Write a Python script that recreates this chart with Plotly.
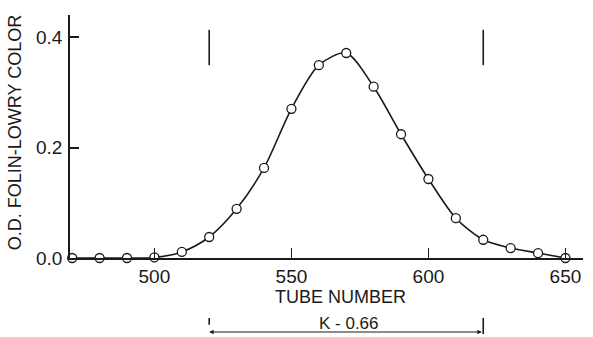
import plotly.graph_objects as go

# Data
tubes = [470, 480, 490, 500, 510, 520, 530, 540, 550, 560, 570, 580, 590, 600,
         610, 620, 630, 640, 650]
od_values = [0.0, 0.0, 0.0, 0.001, 0.011, 0.038, 0.089, 0.163, 0.270, 0.349,
             0.371, 0.310, 0.224, 0.143, 0.072, 0.033, 0.018, 0.009, 0.0]
cut_tubes = [520, 620]
cut_mark_y = [0.349, 0.413]
x_ticks = [500, 550, 600, 650]
y_ticks = [0.0, 0.2, 0.4]
y_tick_labels = ["0.0", "0.2", "0.4"]
k_label = "K - 0.66"

FONT = "Liberation Sans"
INK = "#1a1a1a"

fig = go.Figure()
fig.add_trace(go.Scatter(
    x=tubes, y=od_values, mode="lines+markers",
    line=dict(color=INK, width=1.6, shape="spline", smoothing=0.8),
    marker=dict(symbol="circle", size=9, color="white",
                line=dict(color=INK, width=1.3)),
    cliponaxis=False, showlegend=False,
))

# vertical cut marks near the top
for t in cut_tubes:
    fig.add_shape(type="line", xref="x", yref="y", x0=t, x1=t,
                  y0=cut_mark_y[0], y1=cut_mark_y[1],
                  line=dict(color=INK, width=1.6))

# K span arrow below the axis
yline = -0.3045
fig.add_annotation(xref="x", yref="paper", x=cut_tubes[0], y=yline,
                   axref="x", ayref="pixel", ax=cut_tubes[1], ay=0,
                   showarrow=True, arrowhead=2, arrowside="end+start",
                   arrowsize=0.8, arrowwidth=1.1, arrowcolor=INK, text="")
for t, y0, y1 in [(cut_tubes[0], -0.247, -0.275), (cut_tubes[1], -0.247, -0.313)]:
    fig.add_shape(type="line", xref="x", yref="paper", x0=t, x1=t, y0=y0, y1=y1,
                  line=dict(color=INK, width=1.6))
fig.add_annotation(xref="x", yref="paper", x=(cut_tubes[0] + cut_tubes[1]) / 2 + 1,
                   y=-0.268, text=k_label, showarrow=False,
                   font=dict(family=FONT, size=17, color=INK),
                   xanchor="center", yanchor="middle")

# axis titles
fig.add_annotation(xref="x", yref="paper", x=568, y=-0.1605, text="TUBE NUMBER",
                   showarrow=False, font=dict(family=FONT, size=18, color=INK),
                   xanchor="center", yanchor="middle")
fig.add_annotation(xref="paper", yref="paper", x=-0.107, y=0.514,
                   text="O.D. FOLIN-LOWRY COLOR", textangle=-90, showarrow=False,
                   font=dict(family=FONT, size=18, color=INK),
                   xanchor="center", yanchor="middle")

fig.update_xaxes(range=[469.2, 656.4], tickvals=x_ticks, ticks="inside", ticklen=10,
                 tickwidth=1.3, tickcolor=INK, showline=True, linecolor=INK,
                 linewidth=1.5, showgrid=False, zeroline=False,
                 tickfont=dict(family=FONT, size=19, color=INK))
fig.update_yaxes(range=[0, 0.4398], tickvals=y_ticks, ticktext=y_tick_labels,
                 ticks="inside", ticklen=9, tickwidth=1.5, tickcolor=INK,
                 showline=True, linecolor=INK, linewidth=1.5, showgrid=False,
                 zeroline=False, ticklabelstandoff=2,
                 tickfont=dict(family=FONT, size=19, color=INK))

fig.update_layout(width=593, height=337, margin=dict(l=70, r=10, t=15, b=79),
                  paper_bgcolor="white", plot_bgcolor="white")

fig.write_html("out.html")
